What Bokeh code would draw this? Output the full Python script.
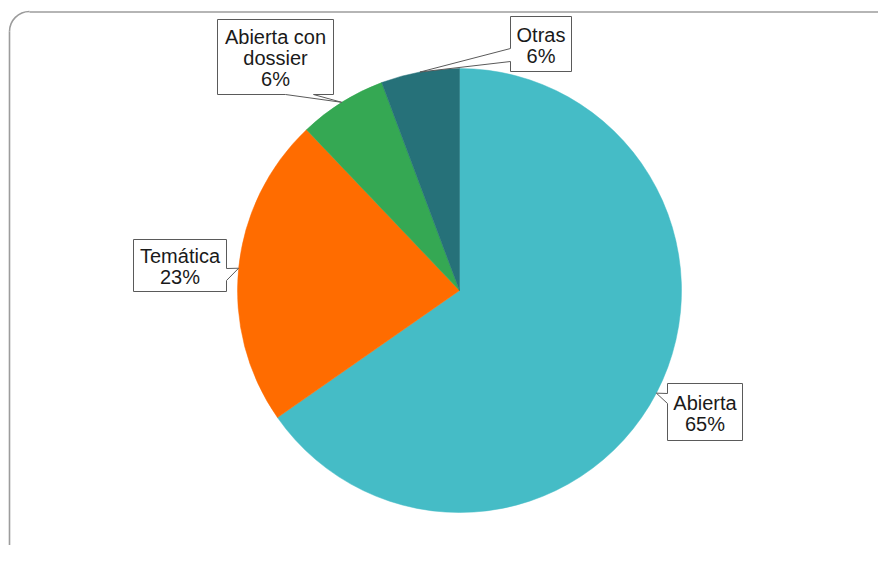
import math
import textwrap
import numpy as np
from bokeh.plotting import figure
from bokeh.models import Range1d
from bokeh.core.properties import value
from bokeh.embed import file_html
from bokeh.resources import INLINE

# ---- data ----
categories = ["Abierta", "Temática", "Abierta con dossier", "Otras"]
shares = [65.3, 22.6, 6.4, 5.7]
colors = ["#45BCC6", "#FF6C00", "#35A853", "#267179"]

# ---- layout (screen pixel coordinates) ----
W, H = 878, 545
CX, CY, R = 459, 290, 222
# label boxes: (left, top, right, bottom), pointer side, pointer base (two coords along that side)
boxes = [
    ((667, 383, 742, 440), "left", (403, 393)),
    ((133, 239, 226, 291), "right", (268, 280)),
    ((217, 19, 333, 94), "bottom", (313, 285)),
    ((510, 16, 571, 71), "left", (61, 48)),
]
FONT = "Liberation Sans"


def Y(sy):
    return H - sy


p = figure(width=W, height=H, output_backend="svg", toolbar_location=None,
           x_range=Range1d(0, W), y_range=Range1d(0, H),
           min_border=0)
p.axis.visible = False
p.grid.visible = False
p.outline_line_color = None
p.background_fill_color = "white"
p.border_fill_color = "white"

# frame with rounded corner
fc = "#9c9c9c"
p.line([9, 9], [Y(31), Y(548)], line_color=fc, line_width=1.6)
p.line([29, W], [Y(11.5), Y(11.5)], line_color=fc, line_width=1.6)
p.arc(x=29, y=Y(31), radius=20, start_angle=math.pi / 2, end_angle=math.pi,
      line_color=fc, line_width=1.6)
p.arc(x=29, y=Y(548), radius=20, start_angle=math.pi, end_angle=1.2 * math.pi,
      line_color=fc, line_width=1.6)

# pie wedges (clockwise from 12 o'clock)
total = sum(shares)
fr = np.array(shares) / total
cum = np.concatenate([[0], np.cumsum(fr)])
starts = math.pi / 2 - 2 * math.pi * cum[:-1]
ends = math.pi / 2 - 2 * math.pi * cum[1:]
p.wedge(x=CX, y=Y(CY), radius=R, start_angle=starts, end_angle=ends,
        direction="clock", fill_color=colors, line_color=colors, line_width=0.5)

# callouts
for i, (cat, sh) in enumerate(zip(categories, shares)):
    (l, t, r, b), side, (b1, b2) = boxes[i]
    mid = math.pi / 2 - 2 * math.pi * (cum[i] + cum[i + 1]) / 2
    tx = CX + R * math.cos(mid)
    ty = CY - R * math.sin(mid)
    if side == "left":
        pts = [(l, t), (r, t), (r, b), (l, b), (l, b1), (tx, ty), (l, b2)]
    elif side == "right":
        pts = [(l, t), (r, t), (r, b1), (tx, ty), (r, b2), (r, b), (l, b)]
    else:  # bottom
        pts = [(l, t), (r, t), (r, b), (b1, b), (tx, ty), (b2, b), (l, b)]
    xs = [q[0] for q in pts]
    ys = [Y(q[1]) for q in pts]
    p.patch(xs, ys, fill_color="white", line_color="#5a5a5a", line_width=1)

    lines = textwrap.wrap(cat, 11) + [f"{int(sh / total * 100 + 0.5)}%"]
    lh = 21
    cxb = (l + r) / 2
    cyb = (t + b) / 2 + 1
    y0 = cyb - lh * (len(lines) - 1) / 2
    p.text(x=[cxb] * len(lines), y=[Y(y0 + k * lh) for k in range(len(lines))],
           text=lines, text_align="center", text_baseline="middle",
           text_font=value(FONT), text_font_size="20px", text_color="#1a1a1a")

open("out.html", "w").write(file_html(p, INLINE))
